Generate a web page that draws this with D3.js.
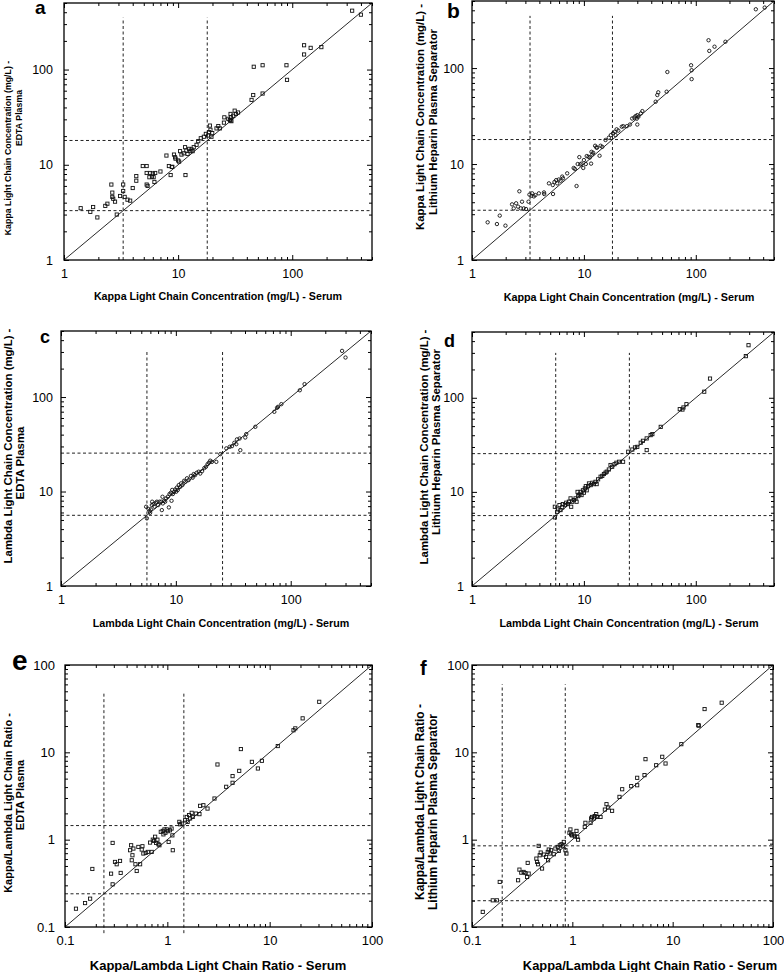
<!DOCTYPE html>
<html>
<head>
<meta charset="utf-8">
<script src="https://cdn.jsdelivr.net/npm/d3@7"></script>
<style>
  body { margin: 0; background: #fff; }
  svg { display: block; }
  text { font-family: "Liberation Sans", Arial, sans-serif; }
</style>
</head>
<body>
<svg id="fig" width="784" height="972"></svg>
<script>
// [serum, plasma] pairs
const kappaEdta = [[1.4,3.5],[1.7,3.2],[1.8,3.6],[1.96,2.8],[2.3,3.7],[2.4,3.9],[2.6,6.2],[2.65,5.1],[2.65,4.6],[2.7,4.4],[2.8,4.1],[2.9,3.0],[3.1,4.7],[3.3,6.2],[3.3,5.3],[3.4,4.6],[3.6,4.3],[3.8,4.2],[4.0,5.7],[4.3,7.6],[4.3,6.8],[4.9,9.7],[5.3,9.7],[5.3,8.2],[5.3,6.2],[5.4,6.0],[5.6,7.4],[5.7,8.2],[5.9,7.5],[6.0,8.1],[6.1,7.4],[6.3,8.2],[6.2,6.6],[7.0,8.5],[7.9,12.5],[8.3,9.7],[8.6,7.8],[8.8,9.5],[8.9,9.5],[9.2,12.8],[9.4,12.0],[9.5,11.6],[10.0,11.1],[10.2,10.8],[10.4,13.9],[10.7,12.8],[11.2,13.2],[11.5,15.3],[11.6,7.8],[11.8,14.1],[12.1,13.0],[12.5,14.7],[12.8,13.9],[13.1,14.5],[13.4,13.9],[13.7,15.3],[14.5,16.2],[15.0,17.7],[15.8,19.0],[16.8,19.7],[17.5,21.1],[18.3,20.3],[18.7,22.0],[19.2,23.3],[19.0,25.8],[19.6,19.7],[19.9,21.5],[21.7,24.1],[22.5,25.5],[23.2,24.1],[25.2,27.7],[25.4,31.5],[27.5,30.4],[28.4,29.5],[28.8,29.1],[28.8,34.2],[29.0,31.5],[29.3,28.7],[30.4,32.7],[31.3,37.0],[32.1,34.2],[33.5,35.4],[44,48],[45.5,54],[46,107],[55,111],[55,56],[89,111],[90,78],[127,180],[127,144],[145,169],[180,172],[335,415],[400,377]]

const kappaLiHep = [[1.38,2.47],[1.67,2.37],[1.77,2.9],[1.99,2.28],[2.28,3.8],[2.36,3.45],[2.48,3.9],[2.58,3.6],[2.65,5.2],[2.73,3.45],[2.8,4.05],[2.9,3.45],[3.04,3.4],[3.2,4.05],[3.26,4.8],[3.4,4.67],[3.45,4.95],[3.57,4.6],[3.69,4.75],[3.96,4.95],[4.4,5.06],[4.42,4.87],[4.87,6.29],[5.3,4.87],[5.27,6.04],[5.46,6.5],[5.65,6.8],[5.77,6.29],[5.97,6.9],[6.18,6.7],[6.4,7.4],[6.5,7.1],[7.09,8.0],[8.1,9.1],[8.3,8.9],[8.6,5.9],[8.8,10.0],[9.1,11.8],[9.3,9.9],[9.5,10.1],[9.87,9.1],[10.0,11.0],[10.4,10.0],[10.6,12.1],[11.0,11.9],[11.3,11.7],[11.6,10.1],[11.7,13.4],[11.9,12.6],[12.1,13.1],[12.6,15.5],[12.9,14.9],[13.1,14.8],[13.8,12.2],[14.1,15.5],[14.6,15.1],[15.6,17.8],[16.7,18.8],[17.4,20.0],[18.2,20.9],[18.9,21.7],[19.2,20.0],[19.6,23.0],[20.3,22.3],[21.8,24.5],[22.5,24.8],[24.2,24.8],[25.8,25.8],[27.0,29.8],[28.2,30.5],[29.0,31.6],[29.7,29.7],[30.0,32.3],[30.7,31.1],[30.0,25.8],[32.3,33.7],[33.3,35.6],[43.8,44.6],[45.3,52.4],[46.2,55.9],[54.9,56.7],[55.7,91],[90.8,107],[91.8,95],[91.8,76.7],[130,195],[132,151],[147,167],[184,188],[344,410],[413,427]]

const lambdaEdta = [[5.59,5.2],[5.51,6.9],[5.78,6.52],[5.9,6.21],[5.97,5.96],[6.05,6.47],[6.18,7.19],[6.22,7.8],[6.39,7.36],[6.52,6.9],[6.69,7.6],[6.83,7.8],[7.01,7.19],[7.2,7.8],[7.45,7.8],[7.55,6.36],[7.65,8.8],[7.7,7.48],[7.91,7.98],[8.07,7.8],[8.24,8.45],[8.52,8.8],[8.69,6.79],[8.81,9.4],[9.04,9.7],[9.17,7.98],[9.29,10.4],[9.41,9.4],[9.67,9.95],[9.87,10.5],[10.07,9.95],[10.2,11.0],[10.4,10.4],[10.6,11.7],[10.9,11.2],[11.1,12.2],[11.4,11.7],[11.8,13.0],[12.1,12.7],[12.5,13.8],[12.9,13.2],[13.5,14.6],[14.0,14.0],[14.3,15.3],[14.7,14.9],[15.2,15.8],[15.8,16.2],[16.3,15.5],[16.9,16.4],[17.7,17.7],[18.3,18.3],[18.9,19.5],[19.4,20.2],[19.9,21.2],[20.6,20.6],[22.5,20.6],[24.4,24.9],[27.5,28.6],[29.4,29.7],[30.8,30.2],[32.3,32.8],[33.6,31.7],[34.0,35.6],[35.9,36.4],[36.4,27.4],[40.2,37.3],[41.0,40.5],[49.2,48.4],[72.0,69.8],[76.0,76.9],[77.6,78.8],[82.9,84.1],[120,118],[132,137],[280,308],[300,262]]

const lambdaLiHep = [[5.5,5.36],[5.5,6.95],[5.77,6.15],[5.89,6.51],[6.05,7.24],[6.18,6.41],[6.4,6.84],[6.48,7.42],[6.76,7.24],[6.95,7.67],[7.19,7.42],[7.34,7.86],[7.6,8.53],[7.7,6.95],[7.86,7.86],[8.13,8.18],[8.42,8.53],[8.6,7.86],[8.78,10.0],[8.9,9.02],[9.15,9.4],[9.34,10.0],[9.53,9.25],[9.8,10.4],[10.0,9.8],[10.2,10.9],[10.4,11.5],[10.6,10.4],[10.9,11.5],[11.1,12.3],[11.5,11.8],[11.9,12.5],[12.3,12.1],[12.7,12.8],[13.0,12.1],[13.4,13.6],[14.1,14.5],[14.6,14.8],[15.1,15.5],[15.6,16.0],[16.0,16.4],[16.7,17.3],[17.3,19.3],[17.9,18.5],[18.8,19.7],[19.5,20.4],[20.6,20.9],[22.4,20.9],[24.9,26.7],[27.1,28.2],[28.6,29.7],[30.0,30.1],[32.2,33.3],[33.7,34.9],[36.4,37.0],[36.4,27.8],[39.5,40.1],[40.9,41.1],[48.6,49.1],[71.9,75.7],[76.0,75.0],[77.6,78.9],[82.5,85.5],[119,116],[134,160],[280,277],[296,362]]

const ratioEdta = [[0.128,0.162],[0.157,0.188],[0.176,0.211],[0.185,0.462],[0.282,0.408],[0.292,0.308],[0.292,0.918],[0.308,0.556],[0.32,0.523],[0.345,0.571],[0.35,0.416],[0.433,0.757],[0.443,0.863],[0.449,0.581],[0.456,0.663],[0.466,0.791],[0.488,0.523],[0.502,0.438],[0.521,0.826],[0.542,0.523],[0.562,0.771],[0.571,0.841],[0.583,0.694],[0.615,0.705],[0.644,0.724],[0.678,0.926],[0.704,0.724],[0.721,1.0],[0.743,0.968],[0.76,1.08],[0.777,0.918],[0.8,1.0],[0.818,0.887],[0.837,0.863],[0.863,1.23],[0.902,1.26],[0.916,1.15],[0.937,1.31],[0.958,1.2],[0.987,1.31],[1.01,1.25],[1.03,0.942],[1.06,1.28],[1.1,1.34],[1.12,1.12],[1.13,0.757],[1.31,1.6],[1.33,1.5],[1.38,1.53],[1.49,1.67],[1.55,1.82],[1.58,1.6],[1.63,1.91],[1.67,1.75],[1.73,2.03],[1.77,1.82],[1.9,1.99],[2.06,1.96],[2.09,2.44],[2.25,2.48],[2.47,2.27],[2.89,2.96],[3.09,7.26],[3.76,4.03],[4.34,4.48],[4.34,5.34],[5.04,6.14],[5.23,10.9],[6.7,7.78],[7.67,6.53],[8.4,8.0],[12.0,11.8],[17.1,17.9],[17.8,18.8],[21.0,24.5],[30.5,37.9]]

const ratioLiHep = [[0.128,0.149],[0.161,0.202],[0.177,0.202],[0.189,0.328],[0.288,0.343],[0.297,0.454],[0.31,0.419],[0.327,0.427],[0.34,0.415],[0.354,0.374],[0.359,0.542],[0.367,0.409],[0.438,0.607],[0.445,0.556],[0.455,0.523],[0.462,0.849],[0.473,0.663],[0.484,0.712],[0.499,0.467],[0.519,0.675],[0.547,0.634],[0.569,0.724],[0.573,0.581],[0.582,0.771],[0.595,0.694],[0.614,0.757],[0.653,0.681],[0.678,0.791],[0.716,0.826],[0.733,0.743],[0.75,0.863],[0.779,0.887],[0.803,0.841],[0.822,0.942],[0.854,0.757],[0.873,0.694],[0.936,1.2],[0.957,1.31],[0.972,1.15],[0.995,1.12],[1.03,1.15],[1.06,1.09],[1.1,1.26],[1.12,1.08],[1.14,1.0],[1.33,1.4],[1.35,1.56],[1.52,1.56],[1.54,1.75],[1.57,1.82],[1.64,1.75],[1.67,1.86],[1.73,1.96],[1.77,1.82],[1.91,1.82],[2.11,2.21],[2.19,2.55],[2.28,2.33],[2.49,2.14],[2.95,3.09],[3.14,3.78],[3.86,4.1],[4.43,5.11],[4.43,4.2],[5.24,5.48],[5.36,8.35],[6.85,7.12],[7.87,8.89],[8.49,7.45],[12.2,12.4],[18.0,20.5],[18.2,20.2],[20.8,31.3],[30.8,37.0]]

// reference-interval cut-offs (dashed lines)
const kappaCut = [3.3, 18]
const lambdaCut = [5.6, 25.5]
const ratioCutE = [0.24, 1.45]
const ratioCutF = [0.2, 0.85]

const concDomain = [1, 500]
const ratioDomain = [0.1, 100]
const concTicks = [1, 10, 100]
const concTickLabels = ['1', '10', '100']
const ratioTicks = [0.1, 1, 10, 100]
const ratioTickLabels = ['0.1', '1', '10', '100']

const kappaX = 'Kappa Light Chain Concentration (mg/L) - Serum'
const lambdaX = 'Lambda Light Chain Concentration (mg/L) - Serum'
const ratioX = 'Kappa/Lambda Light Chain Ratio - Serum'

// layout of the six panels
const panels = [
  { letter: 'a', data: kappaEdta, cut: kappaCut, vTop: 350, marker: 'square',
    domain: concDomain, ticks: concTicks, labels: concTickLabels,
    box: [64, 372, 3, 260], tickFont: 12.5, yGap: 11,
    xTitle: { text: kappaX, size: 10.7, x: 218, y: 300 },
    yTitle: { lines: ['Kappa Light Chain Concentration (mg/L) -', 'EDTA Plasma'], size: 8.8, x: [11, 22], y: [148, 118] },
    tag: { size: 19, x: 35, y: 14 } },
  { letter: 'b', data: kappaLiHep, cut: kappaCut, vTop: 350, marker: 'circle',
    domain: concDomain, ticks: concTicks, labels: concTickLabels,
    box: [472, 774, 1, 260], tickFont: 12.5, yGap: 8,
    xTitle: { text: kappaX, size: 10.8, x: 629, y: 301 },
    yTitle: { lines: ['Kappa Light Chain Concentration (mg/L) -', 'Lithium Heparin Plasma Separator'], size: 11.4, x: [424, 437], y: [117, 122] },
    tag: { size: 21, x: 447, y: 18 } },
  { letter: 'c', data: lambdaEdta, cut: lambdaCut, vTop: 300, marker: 'circle',
    domain: concDomain, ticks: concTicks, labels: concTickLabels,
    box: [61, 371, 331, 586], tickFont: 12.5, yGap: 8,
    xTitle: { text: lambdaX, size: 10.7, x: 221, y: 627 },
    yTitle: { lines: ['Lambda Light Chain Concentration (mg/L) -', 'EDTA Plasma'], size: 11.4, x: [12, 24], y: [446, 463] },
    tag: { size: 18, x: 40, y: 343 } },
  { letter: 'd', data: lambdaLiHep, cut: lambdaCut, vTop: 300, marker: 'square',
    domain: concDomain, ticks: concTicks, labels: concTickLabels,
    box: [472, 774, 332, 586], tickFont: 12.5, yGap: 8,
    xTitle: { text: lambdaX, size: 10.8, x: 629, y: 627 },
    yTitle: { lines: ['Lambda Light Chain Concentration (mg/L) -', 'Lithium Heparin Plasma Separator'], size: 11.4, x: [428, 440], y: [447, 442] },
    tag: { size: 18, x: 444, y: 347 } },
  { letter: 'e', data: ratioEdta, cut: ratioCutE, vTop: 50, vBottom: 0.085, marker: 'square',
    domain: ratioDomain, ticks: ratioTicks, labels: ratioTickLabels,
    box: [65, 372, 665, 927], tickFont: 13, yGap: 10,
    xTitle: { text: ratioX, size: 13, x: 218, y: 970 },
    yTitle: { lines: ['Kappa/Lambda Light Chain Ratio -', 'EDTA Plasma'], size: 11, x: [12, 24], y: [803, 795] },
    tag: { size: 28, x: 12, y: 670 } },
  { letter: 'f', data: ratioLiHep, cut: ratioCutF, vTop: 60, marker: 'square',
    domain: ratioDomain, ticks: ratioTicks, labels: ratioTickLabels,
    box: [472, 773, 665, 927], tickFont: 13, yGap: 3,
    xTitle: { text: ratioX, size: 12.9, x: 650, y: 970 },
    yTitle: { lines: ['Kappa/Lambda Light Chain Ratio -', 'Lithium Heparin Plasma Separator'], size: 12, x: [424, 437], y: [802, 812] },
    tag: { size: 20, x: 420, y: 675 } },
]

const svg = d3.select('#fig')
svg.append('rect').attr('width', 784).attr('height', 972).attr('fill', '#fff')

function minorTicks(domain) {
  const out = []
  const e0 = Math.round(Math.log10(domain[0]))
  for (let e = e0; e < Math.log10(domain[1]); e++) {
    for (let k = 2; k <= 9; k++) {
      const v = +(k * Math.pow(10, e)).toPrecision(6)
      if (v <= domain[1] * 1.0001) out.push(v)
    }
  }
  return out
}

function drawPanel(p) {
  const [x0, x1, y0, y1] = p.box
  const x = d3.scaleLog().domain(p.domain).range([x0, x1])
  const y = d3.scaleLog().domain(p.domain).range([y1, y0])
  const g = svg.append('g').attr('class', 'panel-' + p.letter)
  const minor = minorTicks(p.domain)

  // ticks on all four sides, pointing inward
  const makers = [
    () => d3.axisBottom(x), () => d3.axisTop(x), () => d3.axisLeft(y), () => d3.axisRight(y),
  ]
  const shifts = [`translate(0,${y1})`, `translate(0,${y0})`, `translate(${x0},0)`, `translate(${x1},0)`]
  makers.forEach((make, i) => {
    const labelled = i === 0 || i === 2
    g.append('g').attr('transform', shifts[i])
      .call(make().tickValues(minor).tickSize(-3).tickFormat(''))
      .call((s) => s.select('.domain').remove())
    const major = make().tickValues(p.ticks).tickSize(-5)
      .tickPadding(i < 2 ? 9 : p.yGap)
      .tickFormat(labelled ? (d, j) => p.labels[j] : '')
    const ax = g.append('g').attr('transform', shifts[i]).call(major)
    ax.select('.domain').remove()
    ax.attr('font-size', p.tickFont).attr('font-family', null)
    ax.selectAll('text').attr('fill', '#000')
  })
  g.selectAll('.tick line').attr('stroke', '#000').attr('stroke-width', 1)

  // dashed reference interval lines
  const dash = g.append('g').attr('stroke', '#222').attr('stroke-width', 1).attr('stroke-dasharray', '3,2.5')
  p.cut.forEach((c) => {
    dash.append('line').attr('x1', x(p.domain[0])).attr('x2', x(p.domain[1])).attr('y1', y(c)).attr('y2', y(c))
    dash.append('line').attr('x1', x(c)).attr('x2', x(c))
      .attr('y1', y(p.vBottom || p.domain[0])).attr('y2', y(p.vTop))
  })

  // line of identity
  g.append('line')
    .attr('x1', x(p.domain[0])).attr('y1', y(p.domain[0]))
    .attr('x2', x(p.domain[1])).attr('y2', y(p.domain[1]))
    .attr('stroke', '#111').attr('stroke-width', 0.9)

  // plot frame
  g.append('rect').attr('x', x0).attr('y', y0).attr('width', x1 - x0).attr('height', y1 - y0)
    .attr('fill', 'none').attr('stroke', '#000').attr('stroke-width', 1.3)

  // points
  const pts = g.append('g').attr('fill', 'none').attr('stroke', '#111').attr('stroke-width', 0.9)
  if (p.marker === 'square') {
    pts.selectAll('rect').data(p.data).join('rect')
      .attr('x', (d) => x(d[0]) - 1.6).attr('y', (d) => y(d[1]) - 1.6)
      .attr('width', 3.2).attr('height', 3.2)
  } else {
    pts.selectAll('circle').data(p.data).join('circle')
      .attr('cx', (d) => x(d[0])).attr('cy', (d) => y(d[1])).attr('r', 1.7)
  }

  // titles
  g.append('text').attr('x', p.xTitle.x).attr('y', p.xTitle.y)
    .attr('text-anchor', 'middle').attr('font-weight', 'bold').attr('font-size', p.xTitle.size)
    .text(p.xTitle.text)
  p.yTitle.lines.forEach((line, i) => {
    g.append('text')
      .attr('transform', `translate(${p.yTitle.x[i]},${p.yTitle.y[i]}) rotate(-90)`)
      .attr('text-anchor', 'middle').attr('font-weight', 'bold').attr('font-size', p.yTitle.size)
      .text(line)
  })
  g.append('text').attr('x', p.tag.x).attr('y', p.tag.y)
    .attr('font-weight', 'bold').attr('font-size', p.tag.size)
    .text(p.letter)
}

panels.forEach(drawPanel)
</script>
</body>
</html>
